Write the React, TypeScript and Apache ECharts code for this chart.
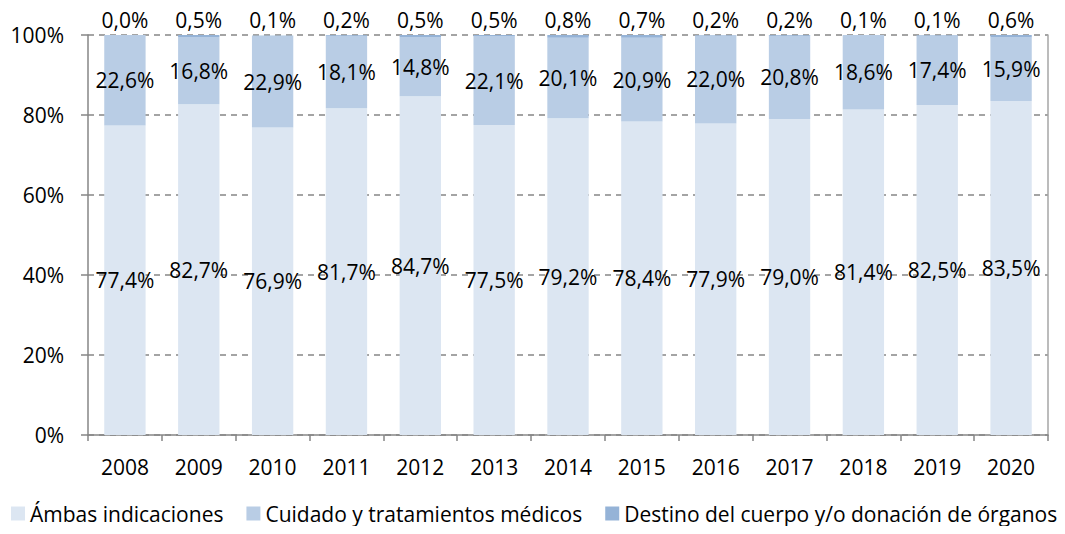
import React, { useEffect, useRef } from "react";
import * as echarts from "echarts";

const years = ["2008","2009","2010","2011","2012","2013","2014","2015","2016","2017","2018","2019","2020"];
const ambas = [77.4, 82.7, 76.9, 81.7, 84.7, 77.5, 79.2, 78.4, 77.9, 79.0, 81.4, 82.5, 83.5];
const cuidado = [22.6, 16.8, 22.9, 18.1, 14.8, 22.1, 20.1, 20.9, 22.0, 20.8, 18.6, 17.4, 15.9];
const destino = [0.0, 0.5, 0.1, 0.2, 0.5, 0.5, 0.8, 0.7, 0.2, 0.2, 0.1, 0.1, 0.6];
const names = ["Ámbas indicaciones", "Cuidado y tratamientos médicos", "Destino del cuerpo y/o donación de órganos"];
const colors = ["#DCE6F2", "#B9CDE5", "#95B3D7"];

const FONT = "'Open Sans', 'Liberation Sans', sans-serif";
const FS = 21;
const fmt = (v: number) => v.toFixed(1).replace(".", ",") + "%";

export default function App() {
  const ref = useRef<HTMLDivElement>(null);
  useEffect(() => {
    const chart = echarts.init(ref.current!, undefined, { renderer: "svg" });
    const labelBase = {
      show: true,
      color: "#000",
      fontSize: FS,
      fontFamily: FONT,
      formatter: (p: any) => fmt(p.value),
    };
    chart.setOption({
      animation: false,
      color: colors,
      textStyle: { fontFamily: FONT },
      grid: { left: 88, right: 17, top: 35, bottom: 99 },
      legend: {
        left: 6,
        bottom: 5,
        itemWidth: 14,
        itemHeight: 14,
        itemGap: 23,
        icon: "rect",
        textStyle: { fontSize: FS, color: "#000", fontFamily: FONT },
        data: names,
      },
      xAxis: {
        type: "category",
        data: years,
        axisLine: { show: true, lineStyle: { color: "#868686", width: 1.5 } },
        axisTick: { show: true, length: 6, lineStyle: { color: "#868686", width: 1.5 } },
        axisLabel: { color: "#000", fontSize: FS, margin: 21, fontFamily: FONT },
      },
      yAxis: [
        {
          type: "value",
          min: 0,
          max: 100,
          interval: 20,
          axisLine: { show: true, lineStyle: { color: "#868686", width: 1.5 } },
          axisTick: { show: true, length: 7, lineStyle: { color: "#868686", width: 1.5 } },
          axisLabel: { color: "#000", fontSize: FS, margin: 24, formatter: "{value}%", fontFamily: FONT },
          splitLine: { show: true, lineStyle: { color: "#868686", type: [6, 5], width: 1.5 } },
        },
        {
          type: "value",
          min: 0,
          max: 100,
          interval: 20,
          position: "right",
          axisLine: { show: true, lineStyle: { color: "#a6a6a6", width: 1.5 } },
          axisTick: { show: false },
          axisLabel: { show: false },
          splitLine: { show: false },
        },
      ],
      series: [
        {
          name: names[0],
          type: "bar",
          stack: "t",
          barWidth: "56%",
          data: ambas,
          itemStyle: { color: colors[0] },
          label: { ...labelBase, position: "inside" },
        },
        {
          name: names[1],
          type: "bar",
          stack: "t",
          data: cuidado,
          itemStyle: { color: colors[1] },
          label: { ...labelBase, position: "inside" },
        },
        {
          name: names[2],
          type: "bar",
          stack: "t",
          data: destino,
          itemStyle: { color: colors[2] },
          label: { ...labelBase, position: "top", distance: 5 },
        },
      ],
    });
    return () => chart.dispose();
  }, []);
  return <div ref={ref} style={{ width: 1065, height: 534, margin: -8 }} />;
}
